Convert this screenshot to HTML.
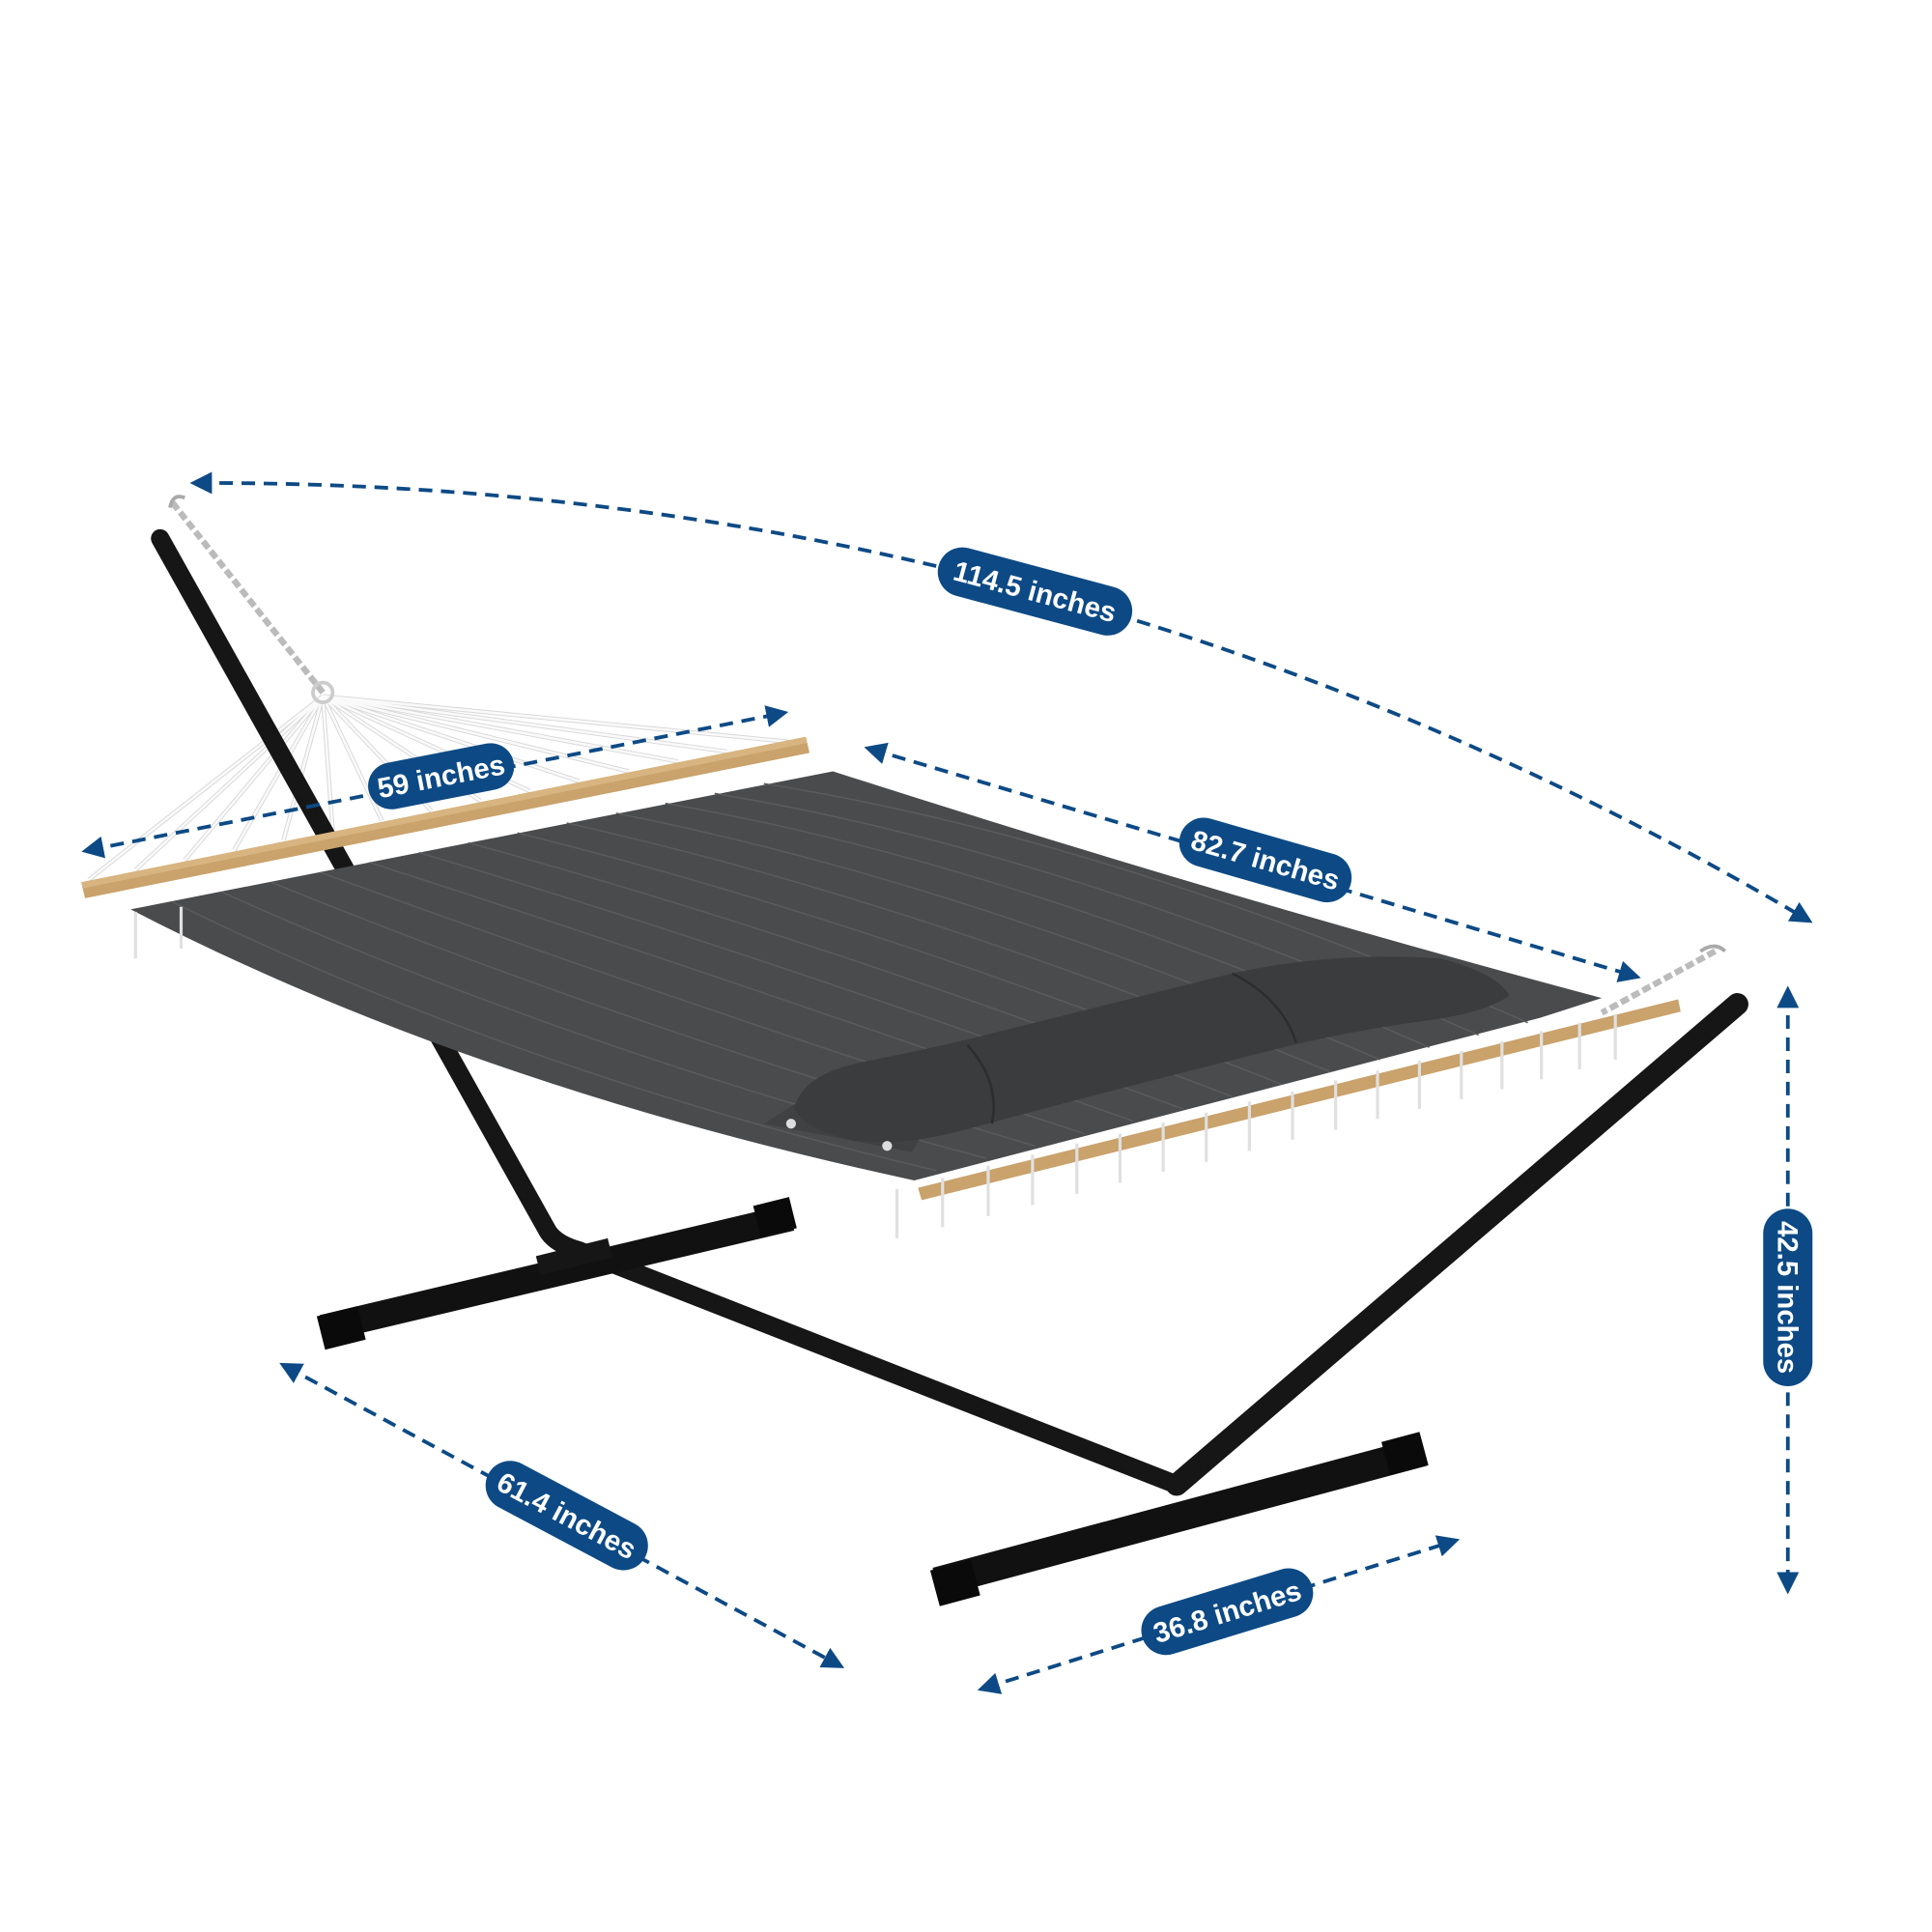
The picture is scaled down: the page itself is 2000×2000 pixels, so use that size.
<!DOCTYPE html>
<html><head><meta charset="utf-8"><style>
html,body{margin:0;padding:0;background:#fff;}
svg{display:block;}
text{font-family:"Liberation Sans",sans-serif;font-weight:bold;fill:#fff;}
</style></head><body>
<svg width="2000" height="2000" viewBox="0 0 1568 1568" xmlns="http://www.w3.org/2000/svg">
<defs>
<marker id="ah" markerWidth="6" markerHeight="6" refX="4" refY="3" orient="auto" markerUnits="strokeWidth">
<path d="M0,0 L6,3 L0,6 Z" fill="#0d4a85"/></marker>
<marker id="as" markerWidth="6" markerHeight="6" refX="2" refY="3" orient="auto" markerUnits="strokeWidth">
<path d="M6,0 L0,3 L6,6 Z" fill="#0d4a85"/></marker>
</defs>
<rect width="1568" height="1568" fill="#fff"/>

<!-- ropes left -->
<g stroke="#d8d8d8" stroke-width="3.5" fill="none">
<path d="M262,565 L72,714"/><path d="M262,565 L110,706"/><path d="M262,565 L150,698"/><path d="M262,565 L190,690"/>
<path d="M262,565 L230,682"/><path d="M262,565 L270,674"/><path d="M262,565 L310,666"/><path d="M262,565 L350,658"/>
<path d="M262,565 L390,650"/><path d="M262,565 L430,642"/><path d="M262,565 L470,634"/><path d="M262,565 L510,626"/>
<path d="M262,565 L550,618"/><path d="M262,565 L590,610"/><path d="M262,565 L640,602"/>
</g>
<g stroke="#fafafa" stroke-width="2" fill="none">
<path d="M262,565 L72,714"/><path d="M262,565 L110,706"/><path d="M262,565 L150,698"/><path d="M262,565 L190,690"/>
<path d="M262,565 L230,682"/><path d="M262,565 L270,674"/><path d="M262,565 L310,666"/><path d="M262,565 L350,658"/>
<path d="M262,565 L390,650"/><path d="M262,565 L430,642"/><path d="M262,565 L470,634"/><path d="M262,565 L510,626"/>
<path d="M262,565 L550,618"/><path d="M262,565 L590,610"/><path d="M262,565 L640,602"/>
</g>
<path d="M140,408 L262,562" stroke="#bbb" stroke-width="5" stroke-dasharray="7,3" fill="none"/>
<path d="M138,412 Q140,400 150,404" stroke="#aaa" stroke-width="3" fill="none"/>
<circle cx="262" cy="562" r="8" fill="none" stroke="#ccc" stroke-width="3"/>

<!-- stand -->
<g stroke="#161616" stroke-linecap="round" fill="none">
<path d="M130,437 L445,1000 Q452,1010 470,1015 L955,1205" stroke-width="15" stroke-linejoin="round"/>
<path d="M955,1205 L1410,815" stroke-width="18"/>
</g>
<g stroke="#111" stroke-linecap="butt" fill="none">
<path d="M262,1078 L642,988" stroke-width="22"/>
<path d="M760,1284 L1155,1178" stroke-width="24"/>
</g>
<rect x="260" y="1064" width="34" height="28" fill="#0a0a0a" transform="rotate(-14 276 1078)"/>
<rect x="614" y="975" width="30" height="26" fill="#0a0a0a" transform="rotate(-14 628 988)"/>
<rect x="758" y="1270" width="34" height="30" fill="#0a0a0a" transform="rotate(-15 774 1284)"/>
<rect x="1124" y="1166" width="32" height="28" fill="#0a0a0a" transform="rotate(-15 1139 1179)"/>
<rect x="436" y="1012" width="60" height="16" fill="#161616" transform="rotate(-14 466 1020)"/>

<!-- fabric -->
<path d="M106,738 L676,626 Q1000,730 1300,810 L1250,826 L742,958 Q380,880 106,738 Z" fill="#4a4b4d"/>
<g stroke="#5a5b5d" stroke-width="1.2" fill="none">
<path d="M140,732 Q420,870 760,950"/><path d="M180,724 Q460,850 800,940"/><path d="M220,716 Q500,830 840,930"/>
<path d="M260,708 Q540,810 880,920"/><path d="M300,700 Q580,790 920,910"/><path d="M340,692 Q620,775 960,900"/>
<path d="M380,684 Q660,760 1000,890"/><path d="M420,676 Q700,745 1040,880"/><path d="M460,668 Q740,730 1080,870"/>
<path d="M500,660 Q780,715 1120,860"/><path d="M540,652 Q820,700 1160,850"/><path d="M580,644 Q860,690 1200,840"/>
<path d="M620,636 Q900,680 1240,830"/>
</g>
<!-- pillow -->
<path d="M620,912 L740,935 L748,922 L650,893 Z" fill="#404143"/>
<path d="M645,900 Q650,872 700,862 Q760,850 800,840 Q900,815 1000,790 Q1080,772 1170,778 Q1215,790 1225,808 Q1205,822 1160,828 Q1100,836 1050,848 Q920,880 790,915 Q730,932 690,925 Q650,915 645,900 Z" fill="#3b3c3e"/>
<path d="M1000,790 Q1040,810 1052,846" stroke="#2c2d2f" stroke-width="2" fill="none"/>
<path d="M785,848 Q812,878 805,912" stroke="#2c2d2f" stroke-width="2" fill="none"/>
<circle cx="642" cy="912" r="4" fill="#ddd"/><circle cx="720" cy="930" r="4" fill="#ddd"/>

<!-- wood bars -->
<path d="M66,716 L654,598 L657,611 L69,729 Z" fill="#c9a26c"/>
<path d="M66,716 L654,598 L655,603 L67,721 Z" fill="#d8b580"/>
<path d="M745,964 L1362,811 L1364,821 L748,974 Z" fill="#c9a26c"/>
<g stroke="#e0e0e0" stroke-width="2.5">
<path d="M728,965 V1005"/><path d="M765,956 V996"/><path d="M802,946 V987"/><path d="M838,937 V978"/><path d="M874,928 V969"/>
<path d="M909,920 V960"/><path d="M944,911 V951"/><path d="M979,903 V943"/><path d="M1014,894 V934"/><path d="M1049,886 V925"/>
<path d="M1084,877 V917"/><path d="M1118,869 V908"/><path d="M1152,861 V900"/><path d="M1186,853 V892"/><path d="M1219,845 V884"/>
<path d="M1251,837 V876"/><path d="M1282,830 V868"/><path d="M1311,823 V860"/>
<path d="M110,740 V778"/><path d="M147,736 V770"/>
</g>
<path d="M1392,772 L1300,822" stroke="#bbb" stroke-width="5" stroke-dasharray="7,3" fill="none"/>
<path d="M1380,772 Q1392,764 1400,772" stroke="#aaa" stroke-width="3" fill="none"/>

<!-- dimension lines -->
<g stroke="#0d4a85" stroke-width="3" stroke-dasharray="11,7" fill="none" marker-start="url(#as)" marker-end="url(#ah)">
<path d="M160,392 Q865,390 1466,746"/>
<path d="M72,690 L634,579"/>
<path d="M707,608 L1326,792"/>
<path d="M1451,806 L1451,1288"/>
<path d="M232,1109 L680,1351"/>
<path d="M799,1370 L1179,1251"/>
</g>

<g transform="translate(840,480) rotate(15)"><rect x="-81" y="-20" width="162" height="40" rx="20" fill="#0d4a85"/><text x="0" y="8" font-size="23" text-anchor="middle">114.5 inches</text></g>
<g transform="translate(358,630) rotate(-11)"><rect x="-60" y="-19" width="120" height="38" rx="19" fill="#0d4a85"/><text x="0" y="8" font-size="23" text-anchor="middle">59 inches</text></g>
<g transform="translate(1027,698) rotate(16)"><rect x="-72" y="-20" width="144" height="40" rx="20" fill="#0d4a85"/><text x="0" y="8" font-size="23" text-anchor="middle">82.7 inches</text></g>
<g transform="translate(1451,1053) rotate(90)"><rect x="-72" y="-20" width="144" height="40" rx="20" fill="#0d4a85"/><text x="0" y="8" font-size="23" text-anchor="middle">42.5 inches</text></g>
<g transform="translate(460,1230) rotate(28)"><rect x="-72" y="-20" width="144" height="40" rx="20" fill="#0d4a85"/><text x="0" y="8" font-size="23" text-anchor="middle">61.4 inches</text></g>
<g transform="translate(996,1308) rotate(-17)"><rect x="-72" y="-20" width="144" height="40" rx="20" fill="#0d4a85"/><text x="0" y="8" font-size="23" text-anchor="middle">36.8 inches</text></g>
</svg>
</body></html>
